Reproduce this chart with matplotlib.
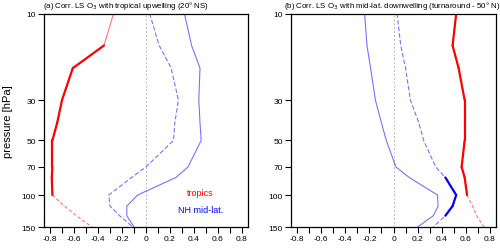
import numpy as np
import matplotlib
matplotlib.use("Agg")
import matplotlib.pyplot as plt

plt.rcParams['font.family'] = ['Liberation Sans', 'DejaVu Sans']

# pressure levels [hPa]
plev = np.array([10, 15, 20, 30, 40, 50, 70, 80, 100, 115, 130, 150])

# (a) correlation with tropical upwelling
a_trop = [-0.27, -0.35, -0.61, -0.70, -0.74, -0.78, -0.78, -0.785, -0.78, -0.68, -0.58, -0.45]
a_trop_sig = [0, 1, 1, 1, 1, 1, 1, 1, 1, 0, 0, 0]
a_nh = [0.32, 0.38, 0.45, 0.44, 0.45, 0.46, 0.35, 0.25, -0.07, -0.16, -0.16, -0.10]
a_nh_sig = [0] * 12
a_nh2 = [0.03, 0.11, 0.21, 0.27, 0.24, 0.23, 0.0, -0.12, -0.31, -0.30, -0.22, -0.11]
a_nh2_sig = [0] * 12

# (b) correlation with mid-lat. downwelling
b_trop = [0.52, 0.49, 0.54, 0.59, 0.59, 0.59, 0.565, 0.59, 0.61, 0.655, 0.69, 0.75]
b_trop_sig = [1, 1, 1, 1, 1, 1, 1, 1, 1, 0, 0, 0]
b_nh = [-0.24, -0.22, -0.19, -0.15, -0.10, -0.06, 0.02, 0.13, 0.365, 0.37, 0.33, 0.20]
b_nh_sig = [0] * 12
b_nh2 = [0.03, 0.06, 0.10, 0.14, 0.21, 0.25, 0.35, 0.43, 0.52, 0.49, 0.43, 0.33]
b_nh2_sig = [0, 0, 0, 0, 0, 0, 0, 1, 1, 1, 1, 0]

yticks = [10, 30, 50, 70, 100, 150]
xticks = [-0.8, -0.6, -0.4, -0.2, 0, 0.2, 0.4, 0.6, 0.8]
xticklabels = ['-0.8', '-0.6', '-0.4', '-0.2', '0', '0.2', '0.4', '0.6', '0.8']

titles = ['(a) Corr. LS O$_3$ with tropical upwelling (20\u00b0 NS)',
          '(b) Corr. LS O$_3$ with mid-lat. downwelling (turnaround - 50\u00b0 N)']


def profile(ax, vals, sig, color, ls, dash_below=None):
    vals = np.array(vals)
    sig = np.array(sig, dtype=bool)
    if dash_below is None:
        ax.plot(vals, plev, color=color, ls=ls, lw=0.8, alpha=0.55)
    else:
        up = plev <= dash_below
        lo = plev >= dash_below
        ax.plot(vals[up], plev[up], color=color, ls='-', lw=0.8, alpha=0.55)
        ax.plot(vals[lo], plev[lo], color=color, ls=(0, (3, 2)), lw=0.8, alpha=0.55)
    # thick where significant
    for i in range(len(plev) - 1):
        if sig[i] and sig[i + 1]:
            ax.plot(vals[i:i + 2], plev[i:i + 2], color=color, lw=1.6,
                    solid_capstyle='round')


fig = plt.figure(figsize=(5, 2.51), dpi=100)
ax1 = fig.add_axes([0.088, 0.0916, 0.408, 0.8506])
ax2 = fig.add_axes([0.582, 0.0916, 0.41, 0.8506])

profile(ax1, a_nh, a_nh_sig, 'blue', '-')
profile(ax1, a_nh2, a_nh2_sig, 'blue', (0, (4, 2)))
profile(ax1, a_trop, a_trop_sig, 'red', '-', dash_below=100)

profile(ax2, b_nh, b_nh_sig, 'blue', '-')
profile(ax2, b_nh2, b_nh2_sig, 'blue', (0, (4, 2)))
profile(ax2, b_trop, b_trop_sig, 'red', '-', dash_below=100)

ax1.text(0.455, 97, 'tropics', color='red', fontsize=6.5, ha='center', va='center')
ax1.text(0.455, 119.5, 'NH mid-lat.', color='blue', fontsize=6.5, ha='center', va='center')

title_x = [-0.005, -0.034]
for ax, t, tx in zip([ax1, ax2], titles, title_x):
    ax.axvline(0, color='#bbbbbb', lw=0.7, ls=(0, (2, 2)), zorder=0)
    ax.set_yscale('log')
    ax.set_ylim(150, 10)
    ax.set_xlim(-0.85, 0.85)
    ax.set_yticks(yticks)
    ax.set_yticklabels([str(v) for v in yticks])
    ax.minorticks_off()
    ax.set_xticks(xticks)
    ax.set_xticklabels(xticklabels)
    ax.set_xticks(np.arange(-0.8, 0.81, 0.1), minor=True)
    ax.tick_params(which='both', direction='out', length=4, width=0.8,
                   labelsize=6, top=False, right=False, pad=2)
    ax.tick_params(axis='x', which='minor', length=4, width=0.8)
    for s in ax.spines.values():
        s.set_linewidth(0.9)
    ax.text(tx, 1.012, t, transform=ax.transAxes, fontsize=5.7, ha='left', va='bottom')

ax1.set_ylabel('pressure [hPa]', fontsize=8, labelpad=6)

fig.savefig('out.png', dpi=100)
